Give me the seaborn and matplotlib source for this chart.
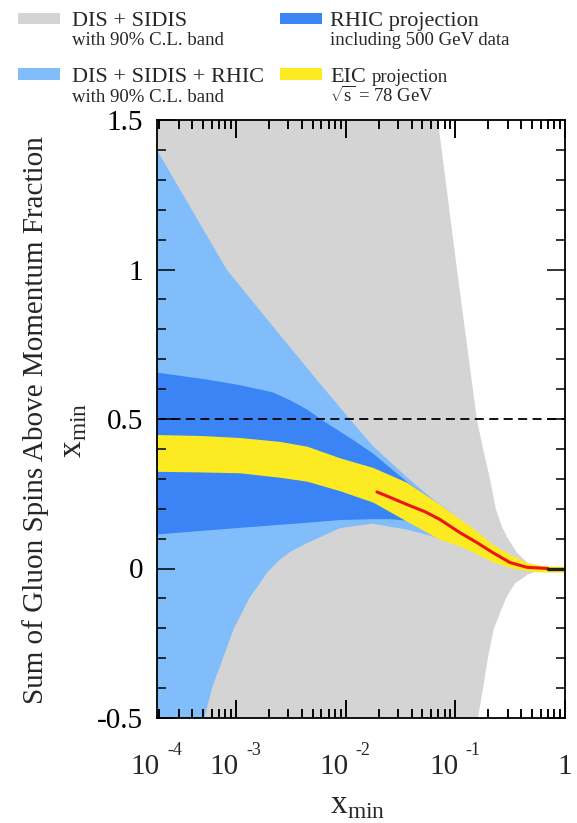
import numpy as np
import matplotlib
matplotlib.use("Agg")
import matplotlib.pyplot as plt
import matplotlib.transforms as mtransforms
import seaborn as sns
from matplotlib.patches import Rectangle
from matplotlib.ticker import (FixedLocator, FixedFormatter, MultipleLocator,
                               NullFormatter, NullLocator)

# ---------------------------------------------------------------- data
# DIS + SIDIS, 90% C.L. band (upper and lower edges)
dis_up_x = [1.9e-4, 4.75e-2, 6.93e-2, 0.1035, 0.157, 0.179, 0.207, 0.234,
            0.266, 0.302, 0.365, 0.450, 0.590, 1.0]
dis_up = [2.0, 1.96, 1.5, 1.0, 0.5, 0.4, 0.3, 0.2, 0.14, 0.1, 0.053, 0.02,
          0.007, 0.003]
dis_lo_x = [1.9e-4, 0.117, 0.161, 0.179, 0.198, 0.225, 0.289, 0.350, 0.459,
            0.590, 1.0]
dis_lo = [-2.0, -0.8, -0.5, -0.4, -0.3, -0.2, -0.1, -0.05, -0.02, -0.006,
          -0.003]

# DIS + SIDIS + RHIC, 90% C.L. band
rhic_up_x = [1.9e-4, 3.81e-4, 8.22e-4, 2.17e-3, 6.08e-3, 1.09e-2, 1.77e-2,
             3.62e-2, 5.86e-2, 8.93e-2, 0.110]
rhic_up = [1.40, 1.21, 1.00, 0.81, 0.61, 0.50, 0.41, 0.305, 0.24, 0.19, 0.16]
rhic_lo_x = [1.9e-4, 3.81e-4, 5.00e-4, 6.04e-4, 7.60e-4, 9.59e-4, 1.32e-3,
             1.96e-3, 2.52e-3, 3.10e-3, 4.44e-3, 5.47e-3, 8.87e-3, 1.77e-2,
             3.62e-2, 5.86e-2, 7.24e-2, 0.110]
rhic_lo = [-1.2, -0.72, -0.52, -0.40, -0.30, -0.20, -0.10, -0.01, 0.03, 0.055,
           0.085, 0.10, 0.135, 0.15, 0.13, 0.11, 0.10, 0.08]

# RHIC projection including 500 GeV data
proj_up_x = [1.9e-4, 5.45e-4, 1.09e-3, 2.17e-3, 3.10e-3, 4.44e-3, 6.47e-3,
             1.17e-2, 1.77e-2, 3.62e-2, 5.86e-2, 0.110]
proj_up = [0.655, 0.632, 0.613, 0.589, 0.563, 0.532, 0.49, 0.43, 0.385, 0.29,
           0.235, 0.155]
proj_lo_x = [1.9e-4, 1.09e-3, 4.44e-3, 8.87e-3, 1.77e-2, 2.54e-2, 3.62e-2,
             5.86e-2, 0.110]
proj_lo = [0.114, 0.136, 0.153, 0.162, 0.165, 0.165, 0.16, 0.12, 0.08]

# EIC projection, sqrt(s) = 78 GeV
eic_x = [1.9e-4, 4.70e-4, 1.09e-3, 2.52e-3, 4.44e-3, 8.87e-3, 1.77e-2,
         3.62e-2, 7.24e-2, 0.110, 0.145, 0.220, 0.315, 0.450, 0.630, 1.0]
eic_up = [0.448, 0.445, 0.438, 0.425, 0.409, 0.37, 0.338, 0.288, 0.214, 0.165,
          0.135, 0.08, 0.047, 0.02, 0.009, 0.007]
eic_lo = [0.325, 0.323, 0.32, 0.305, 0.292, 0.26, 0.222, 0.158, 0.097, 0.075,
          0.055, 0.022, 0.003, -0.008, -0.012, -0.012]

# EIC central curve and the fixed high-x piece
eic_mid_x = [1.93e-2, 2.54e-2, 3.62e-2, 5.28e-2, 7.24e-2, 0.110, 0.157,
             0.220, 0.315, 0.450, 0.698]
eic_mid = [0.256, 0.238, 0.214, 0.19, 0.164, 0.12, 0.087, 0.053, 0.02, 0.004,
           0.0]
highx_x = [0.698, 1.0]
highx = [0.0, 0.0]

y_ticks = [-0.5, 0, 0.5, 1, 1.5]
y_tick_labels = ["-0.5", "0", "0.5", "1", "1.5"]
x_major = [1e-3, 1e-2, 1e-1, 1]
x_minor = [k * 10.0 ** d for d in range(-4, 0) for k in range(2, 10)]
x_decades = [None, 1e-3, 1e-2, 1e-1]          # None -> left edge of the axis
x_exponents = ["-4", "-3", "-2", "-1"]

legend_colors = ["#d4d4d4", "#80bdfa", "#3a84f6", "#fcea22"]
legend_main = ["DIS + SIDIS", "DIS + SIDIS + RHIC", "RHIC projection", "EIC"]
legend_sub = ["with 90% C.L. band", "with 90% C.L. band",
              "including 500 GeV data", r"$\sqrt{\mathrm{s}}$ = 78 GeV"]

# ---------------------------------------------------------------- style
sns.set_theme(style="ticks")
plt.rcParams["font.family"] = ["Liberation Serif", "DejaVu Serif"]
plt.rcParams["mathtext.fontset"] = "custom"
plt.rcParams["mathtext.rm"] = "Liberation Serif"
plt.rcParams["axes.unicode_minus"] = False

W, H = 577, 823
fig = plt.figure(figsize=(W / 100, H / 100), dpi=100)
fig.patch.set_facecolor("white")


def fx(px):
    return px / W


def fy(py):
    return 1 - py / H


ax = fig.add_axes([fx(157), fy(718), (565 - 157) / W, (718 - 120) / H])
ax.set_facecolor("white")
ax.set_xscale("log")


def band(xu, yu, xl, yl, color):
    ax.fill(np.r_[xu, xl[::-1]], np.r_[yu, yl[::-1]], color=color, lw=0,
            zorder=1)


band(np.array(dis_up_x), np.array(dis_up), np.array(dis_lo_x),
     np.array(dis_lo), legend_colors[0])
band(np.array(rhic_up_x), np.array(rhic_up), np.array(rhic_lo_x),
     np.array(rhic_lo), legend_colors[1])
band(np.array(proj_up_x), np.array(proj_up), np.array(proj_lo_x),
     np.array(proj_lo), legend_colors[2])
ax.fill_between(eic_x, eic_lo, eic_up, color=legend_colors[3], lw=0, zorder=1)

sns.lineplot(x=eic_mid_x, y=eic_mid, ax=ax, color="#ee1414", lw=2.2,
             estimator=None, sort=False, zorder=3)
sns.lineplot(x=highx_x, y=highx, ax=ax, color="#222222", lw=2.4,
             estimator=None, sort=False, zorder=3)

ax.axhline(0.5, color="black", lw=1.3, ls=(0, (5, 3)), zorder=4)

# ---------------------------------------------------------------- axes
ax.set_xlim(10 ** -3.72, 1)
ax.set_ylim(-0.5, 1.5)
ax.set_axisbelow(False)
ax.xaxis.set_major_locator(FixedLocator(x_major))
ax.xaxis.set_minor_locator(FixedLocator(x_minor))
ax.xaxis.set_major_formatter(NullFormatter())
ax.xaxis.set_minor_formatter(NullFormatter())
ax.yaxis.set_major_locator(FixedLocator(y_ticks))
ax.yaxis.set_major_formatter(FixedFormatter(y_tick_labels))
ax.yaxis.set_minor_locator(MultipleLocator(0.1))
ax.tick_params(which="both", direction="in", top=True, right=True,
               bottom=True, left=True, width=1.1, color="black")
ax.tick_params(which="major", length=13)
ax.tick_params(which="minor", length=6.5)
ax.tick_params(axis="y", labelsize=21, pad=10, labelcolor="black")
for s in ax.spines.values():
    s.set_linewidth(1.3)
    s.set_color("black")
    s.set_zorder(5)

blend = mtransforms.blended_transform_factory(ax.transData, ax.transAxes)

# inward tick marks along the bottom and top edges, one line per tick
major_len = 18 / 598
minor_len = 9 / 598
for xs, ln in ((x_major, major_len), (x_minor, minor_len)):
    for xv in xs:
        for y0, y1 in ((0.0, ln), (1.0 - ln, 1.0)):
            ax.plot([xv, xv], [y0, y1], transform=blend, color="black",
                    lw=1.2, solid_capstyle="butt", clip_on=False, zorder=7)


# decade labels on the x axis
def shifted(dx_px, dy_px):
    return blend + mtransforms.ScaledTranslation(dx_px / 100, dy_px / 100,
                                                 fig.dpi_scale_trans)


for xv, ex in zip(x_decades, x_exponents):
    xpos = ax.get_xlim()[0] if xv is None else xv
    ax.text(xpos, 0, "10", transform=shifted(3, -56), ha="right",
            va="baseline", fontsize=21, clip_on=False)
    ax.text(xpos, 0, ex, transform=shifted(10, -37), ha="left",
            va="baseline", fontsize=13, clip_on=False)
ax.text(1.0, 0, "1", transform=shifted(0, -56), ha="center", va="baseline",
        fontsize=21, clip_on=False)

# axis titles
fig.text(fx(358), fy(806), r"$\mathrm{x}_{\mathrm{min}}$", ha="center",
         va="center", fontsize=24)
fig.text(fx(36), fy(420), "Sum of Gluon Spins Above Momentum Fraction",
         rotation=90, ha="center", va="center", fontsize=21)
fig.text(fx(74), fy(430), r"$\mathrm{x}_{\mathrm{min}}$", rotation=90,
         ha="center", va="center", fontsize=24)

# ---------------------------------------------------------------- legend
patch_x = [18, 18, 280, 280]
patch_y = [(13, 24), (68, 80), (13, 24), (68, 80)]
text_x = [72, 72, 330, 330]
main_base = [26, 82, 26, 82]
sub_base = [45, 102, 45, 102]
for i in range(4):
    y0, y1 = patch_y[i]
    fig.patches.append(Rectangle((fx(patch_x[i]), fy(y1)), 42 / W,
                                 (y1 - y0) / H, transform=fig.transFigure,
                                 figure=fig, facecolor=legend_colors[i],
                                 lw=0))
    fig.text(fx(text_x[i]), fy(main_base[i]), legend_main[i], fontsize=16,
             ha="left", va="baseline")
    fig.text(fx(text_x[i]), fy(sub_base[i]), legend_sub[i], fontsize=13.5,
             ha="left", va="baseline")
fig.text(fx(372), fy(82), "projection", fontsize=13.5, ha="left",
         va="baseline")

fig.savefig("out.png", dpi=100, facecolor="white")
